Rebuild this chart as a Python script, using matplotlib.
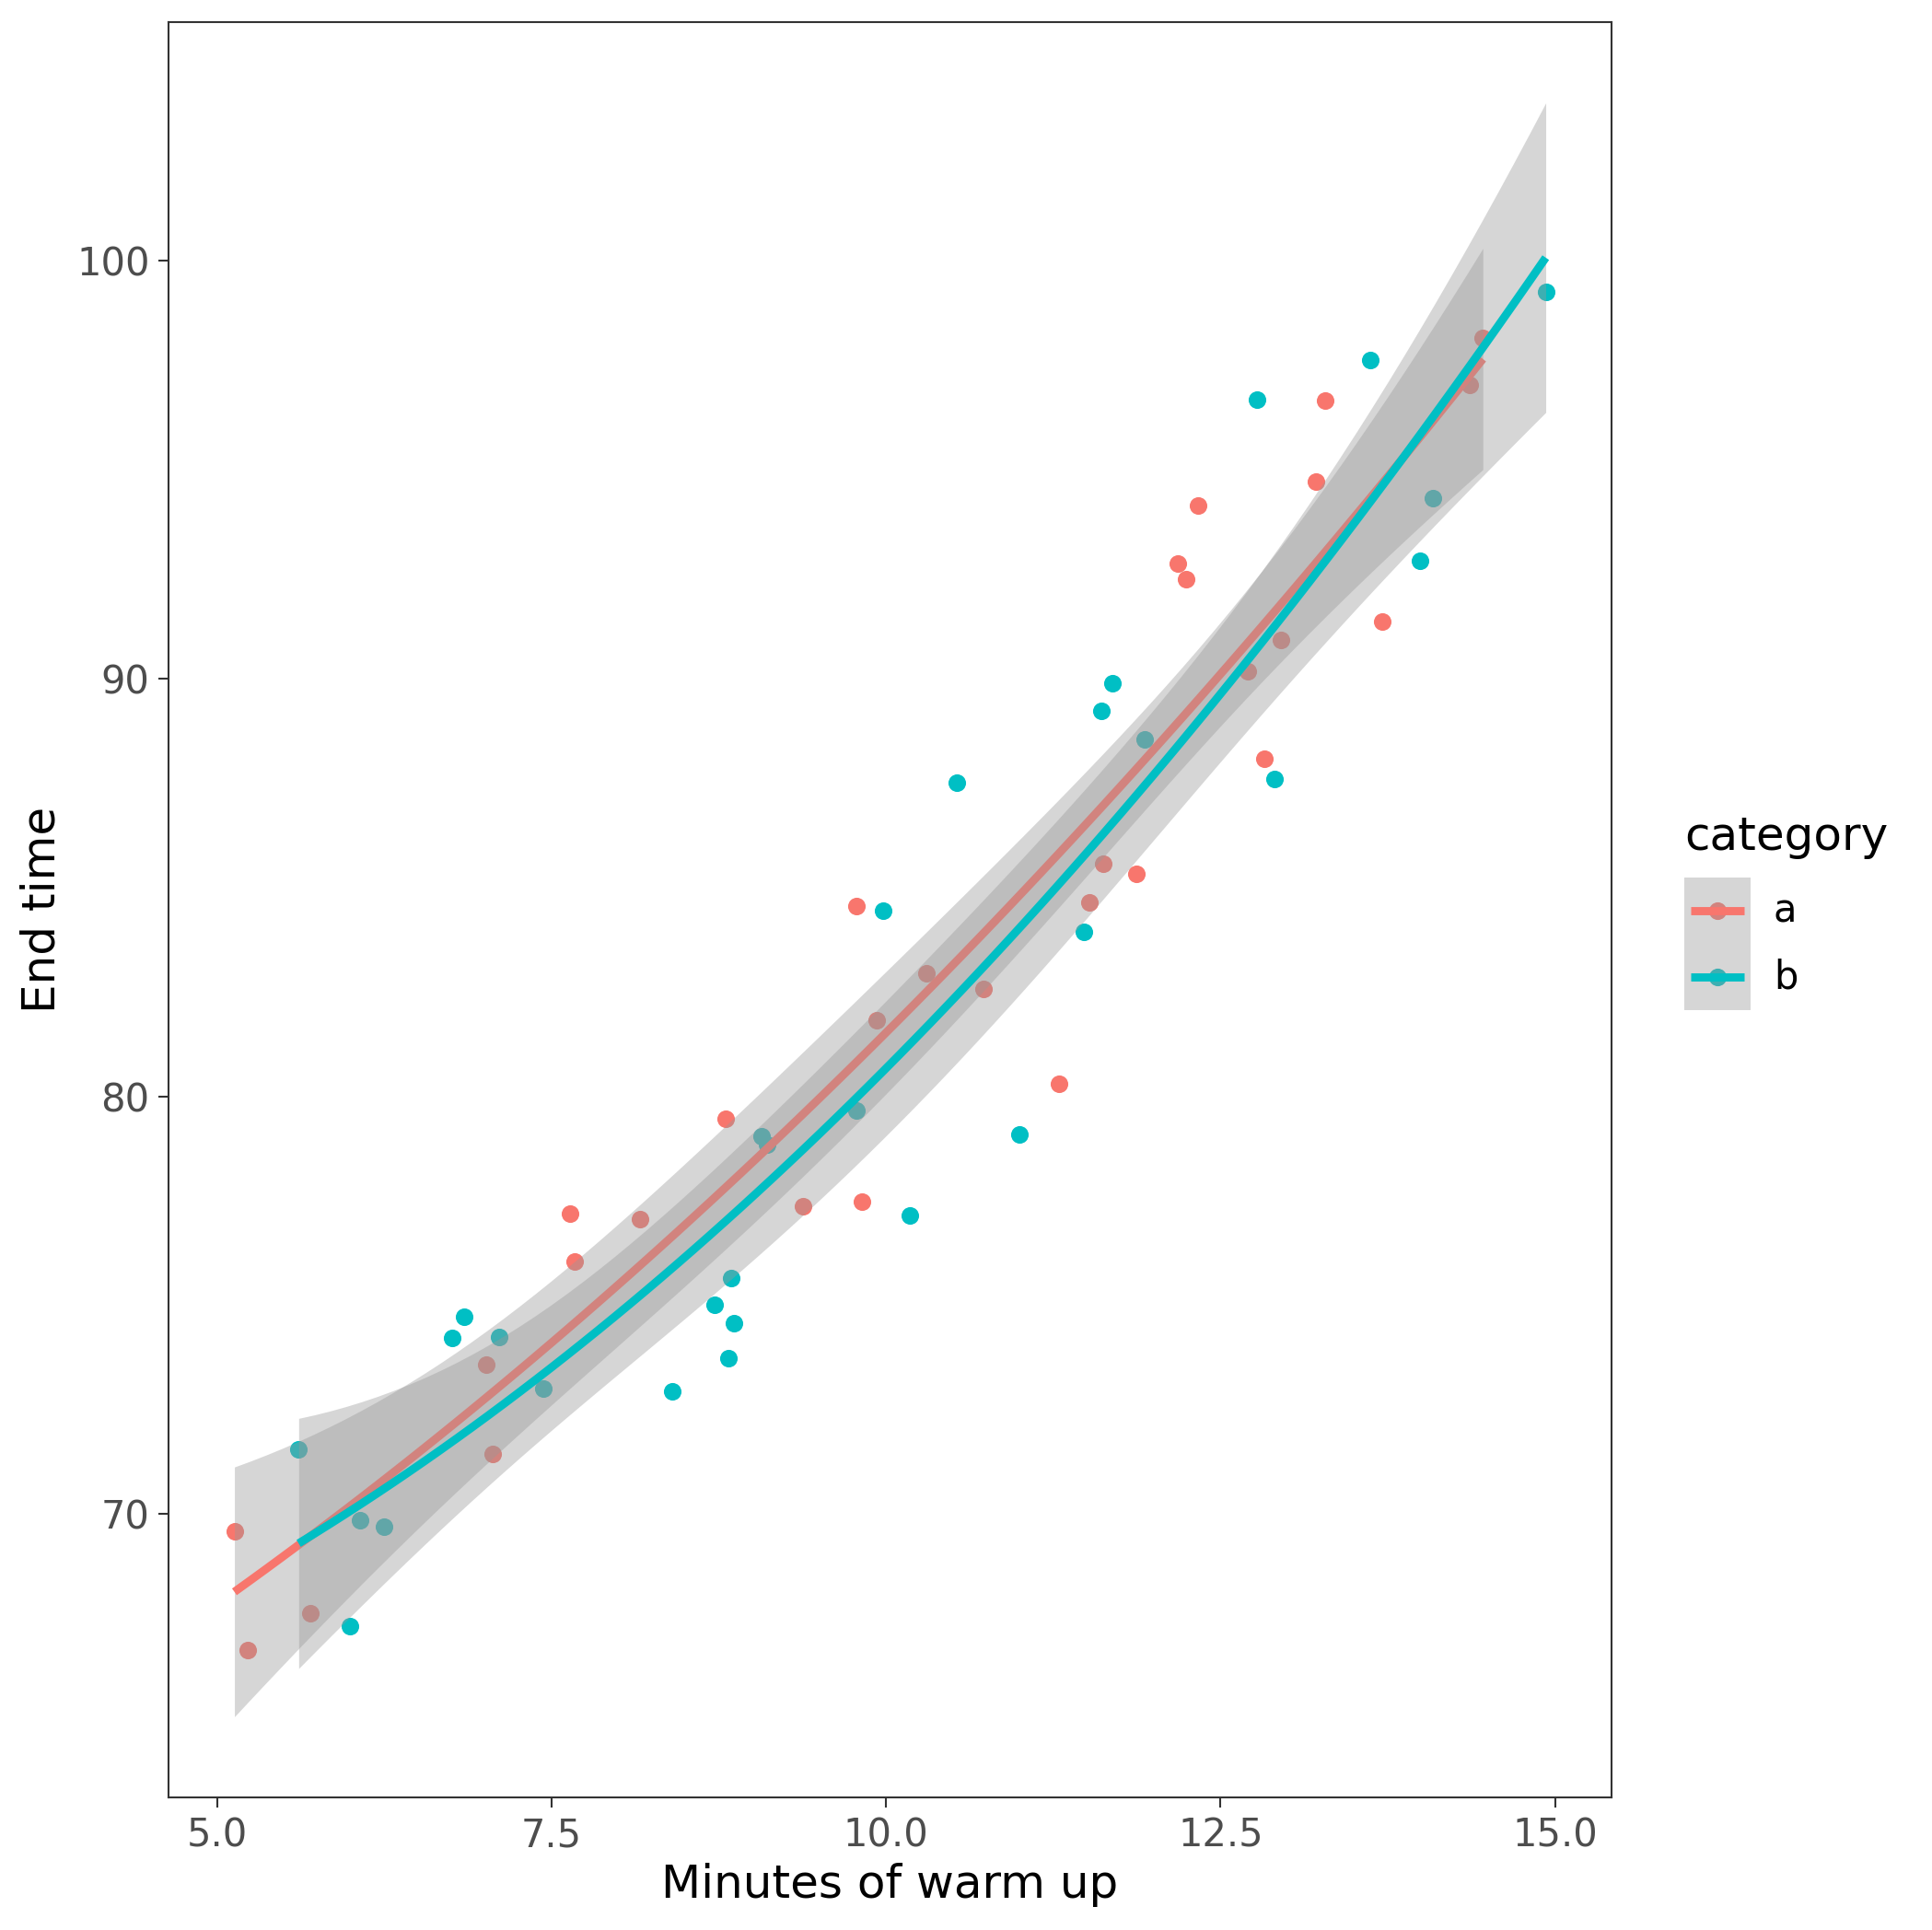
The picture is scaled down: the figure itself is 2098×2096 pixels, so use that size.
import numpy as np
import matplotlib
matplotlib.use("Agg")
import matplotlib.pyplot as plt
from matplotlib.lines import Line2D
from matplotlib.patches import Rectangle
from matplotlib.legend_handler import HandlerBase

# points
a_x = [5.13, 5.23, 5.70, 7.01, 7.06, 7.64, 7.67, 8.16, 8.80, 9.38,
       9.78, 9.82, 9.93, 10.30, 10.73, 11.29, 11.52, 11.62, 11.87, 12.18,
       12.24, 12.33, 12.70, 12.83, 12.95, 13.21, 13.28, 13.71, 14.36, 14.46]
a_y = [69.59, 66.76, 67.64, 73.57, 71.44, 77.19, 76.04, 77.07, 79.46, 77.37,
       84.56, 77.49, 81.82, 82.94, 82.56, 80.29, 84.65, 85.56, 85.33, 92.75,
       92.37, 94.14, 90.16, 88.07, 90.92, 94.70, 96.64, 91.37, 97.03, 98.15]

b_x = [5.61, 5.99, 6.07, 6.25, 6.76, 6.85, 7.11, 7.44, 8.40, 8.72,
       8.82, 8.84, 8.86, 9.07, 9.11, 9.78, 9.98, 10.18, 10.53, 11.00,
       11.48, 11.61, 11.69, 11.93, 12.77, 12.90, 13.62, 13.99, 14.09, 14.93]
b_y = [71.56, 67.32, 69.85, 69.71, 74.21, 74.72, 74.24, 73.01, 72.95, 75.01,
       73.74, 75.66, 74.57, 79.05, 78.85, 79.67, 84.44, 77.16, 87.51, 79.08,
       83.94, 89.22, 89.89, 88.54, 96.67, 87.59, 97.62, 92.81, 94.31, 99.25]

categories = ["a", "b"]
colors = ["#F8766D", "#00BFC4"]
T_CRIT = 2.05  # 95% t quantile, ~28 df


def quad_smooth(x, y, n=80):
    # lm(y ~ poly(x, 2)) with 95% confidence band
    x = np.asarray(x, float)
    y = np.asarray(y, float)
    X = np.column_stack([np.ones_like(x), x, x ** 2])
    beta = np.linalg.lstsq(X, y, rcond=None)[0]
    resid = y - X @ beta
    s2 = resid @ resid / (len(x) - 3)
    cov = s2 * np.linalg.inv(X.T @ X)
    xs = np.linspace(x.min(), x.max(), n)
    Xs = np.column_stack([np.ones_like(xs), xs, xs ** 2])
    fit = Xs @ beta
    se = np.sqrt(np.einsum('ij,jk,ik->i', Xs, cov, Xs))
    return xs, fit, fit - T_CRIT * se, fit + T_CRIT * se


class KeyHandler(HandlerBase):
    # ggplot-like key: point, grey ribbon square on top, then the line
    def create_artists(self, legend, orig_handle, xdescent, ydescent,
                       width, height, fontsize, trans):
        c = orig_handle.get_color()
        x0, y0 = -xdescent, -ydescent
        xc, yc = x0 + width / 2, y0 + height / 2
        pad = 0.1 * width
        pt = Line2D([xc], [yc], marker="o", markersize=4.6, color=c,
                    linestyle="none", markeredgewidth=0)
        bg = Rectangle((x0, y0), width, height, facecolor="#999999",
                       alpha=0.4, edgecolor="none")
        ln = Line2D([x0 + pad, x0 + width - pad], [yc, yc], color=c,
                    linewidth=2.13, solid_capstyle="butt")
        for a in (pt, bg, ln):
            a.set_transform(trans)
        return [pt, bg, ln]


fig = plt.figure(figsize=(2098 / 300, 2096 / 300), dpi=300)
ax = fig.add_axes([0.0874, 0.0687, 0.7466, 0.9198])

groups = [(a_x, a_y), (b_x, b_y)]
for (gx, gy), c in zip(groups, colors):
    ax.scatter(gx, gy, s=21, color=c, linewidths=0, zorder=1)

ymins, ymaxs = [], []
z = 2
for (gx, gy), c in zip(groups, colors):
    xs, fit, lo, hi = quad_smooth(gx, gy)
    ax.fill_between(xs, lo, hi, color="#999999", alpha=0.4, linewidth=0, zorder=z)
    ax.plot(xs, fit, color=c, linewidth=2.13, zorder=z + 1, solid_capstyle="butt")
    ymins.append(lo.min())
    ymaxs.append(hi.max())
    z += 2

# ggplot style 5% expansion
all_x = a_x + b_x
x0, x1 = min(all_x), max(all_x)
y0 = min(min(a_y + b_y), min(ymins))
y1 = max(max(a_y + b_y), max(ymaxs))
ax.set_xlim(x0 - 0.05 * (x1 - x0), x1 + 0.05 * (x1 - x0))
ax.set_ylim(y0 - 0.05 * (y1 - y0), y1 + 0.05 * (y1 - y0))

ax.set_xticks([5.0, 7.5, 10.0, 12.5, 15.0])
ax.set_xticklabels(["5.0", "7.5", "10.0", "12.5", "15.0"])
ax.set_yticks([70, 80, 90, 100])
ax.tick_params(length=2.75, width=0.5, color="#333333", labelcolor="#4D4D4D",
               labelsize=10, pad=2.2)
for sp in ax.spines.values():
    sp.set_color("#333333")
    sp.set_linewidth(0.5)

ax.set_xlabel("Minutes of warm up", fontsize=12, labelpad=2)
ax.set_ylabel("End time", fontsize=12, labelpad=3.3)

handles = [Line2D([], [], color=c) for c in colors]
fig.text(0.8718, 0.5596, "category", fontsize=12, ha="left", va="baseline")
leg = fig.legend(handles, categories, loc="upper left",
                 bbox_to_anchor=(0.8718, 0.5455), frameon=False, fontsize=10,
                 handlelength=1.727, handleheight=2.28,
                 handletextpad=0.6, labelspacing=0, borderpad=0,
                 borderaxespad=0,
                 handler_map={Line2D: KeyHandler()})

fig.savefig("out.png", dpi=300)
